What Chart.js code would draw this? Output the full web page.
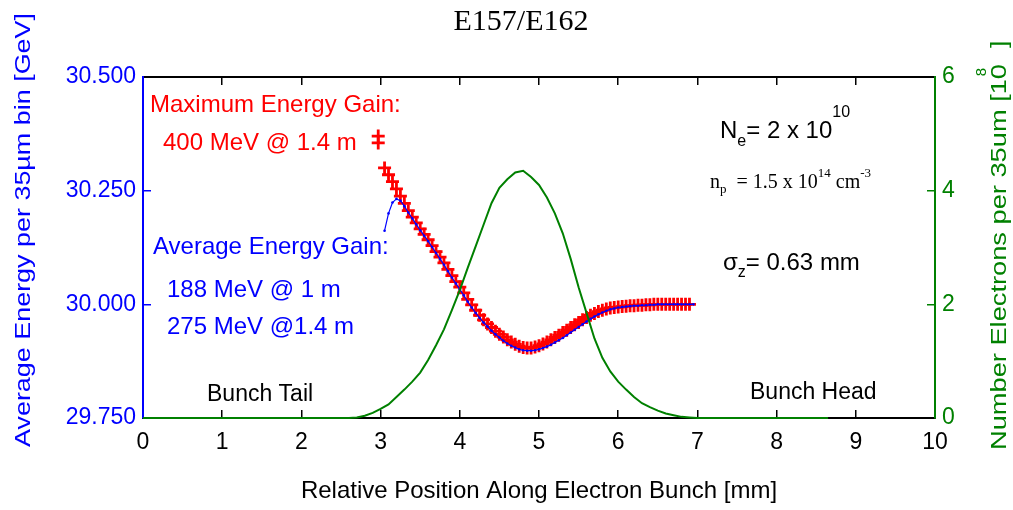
<!DOCTYPE html>
<html>
<head>
<meta charset="utf-8">
<script src="https://cdn.jsdelivr.net/npm/chart.js@4/dist/chart.umd.min.js"></script>
<style>
  html, body { margin: 0; padding: 0; background: #fff; }
  canvas { display: block; }
</style>
</head>
<body>
<canvas id="energyChart" width="1013" height="510"></canvas>
<script>
// Position along the bunch [mm], one entry per plotted bin
const binPos = [3.05, 3.10, 3.15, 3.20, 3.25, 3.30, 3.35, 3.40, 3.45, 3.50,
    3.55, 3.60, 3.65, 3.70, 3.75, 3.80, 3.85, 3.90, 3.95, 4.00,
    4.05, 4.10, 4.15, 4.20, 4.25, 4.30, 4.35, 4.40, 4.45, 4.50,
    4.55, 4.60, 4.65, 4.70, 4.75, 4.80, 4.85, 4.90, 4.95, 5.00,
    5.05, 5.10, 5.15, 5.20, 5.25, 5.30, 5.35, 5.40, 5.45, 5.50,
    5.55, 5.60, 5.65, 5.70, 5.75, 5.80, 5.85, 5.90, 5.95, 6.00,
    6.05, 6.10, 6.15, 6.20, 6.25, 6.30, 6.35, 6.40, 6.45, 6.50,
    6.55, 6.60, 6.65, 6.70, 6.75, 6.80, 6.85, 6.90, 6.95];

// Maximum energy per bin [GeV] (red crosses)
const maxEnergy = [30.300, 30.285, 30.270, 30.254, 30.238, 30.222, 30.206, 30.192, 30.179, 30.166,
    30.154, 30.142, 30.129, 30.116, 30.104, 30.091, 30.077, 30.063, 30.050, 30.038,
    30.025, 30.011, 29.999, 29.987, 29.976, 29.966, 29.957, 29.949, 29.941, 29.934,
    29.928, 29.922, 29.917, 29.912, 29.908, 29.905, 29.904, 29.904, 29.906, 29.909,
    29.913, 29.917, 29.922, 29.927, 29.932, 29.938, 29.943, 29.949, 29.955, 29.960,
    29.966, 29.971, 29.976, 29.980, 29.984, 29.987, 29.990, 29.992, 29.993, 29.994,
    29.995, 29.996, 29.997, 29.997, 29.998, 29.998, 29.999, 29.999, 30.000, 30.000,
    30.000, 30.000, 30.000, 30.000, 30.000, 30.000, 30.000, 30.000, null];

// the two isolated crosses at the very tail
const maxTailPos = [2.97, 2.97];
const maxTailEnergy = [30.370, 30.355];

// Average energy per bin [GeV] (blue dots)
const avgEnergy = [30.162, 30.200, 30.224, 30.232, 30.228, 30.216, 30.202, 30.189, 30.176, 30.163,
    30.151, 30.139, 30.126, 30.113, 30.100, 30.087, 30.073, 30.059, 30.046, 30.033,
    30.020, 30.006, 29.993, 29.981, 29.970, 29.960, 29.951, 29.942, 29.934, 29.927,
    29.920, 29.914, 29.909, 29.905, 29.901, 29.899, 29.898, 29.898, 29.899, 29.901,
    29.904, 29.907, 29.911, 29.916, 29.921, 29.926, 29.932, 29.938, 29.944, 29.950,
    29.956, 29.962, 29.968, 29.973, 29.978, 29.982, 29.986, 29.989, 29.991, 29.993,
    29.994, 29.995, 29.996, 29.997, 29.997, 29.998, 29.998, 29.999, 29.999, 30.000,
    30.000, 30.000, 30.000, 30.000, 30.000, 30.000, 30.000, 30.000, 30.000];

// Bunch profile, electrons per bin [10^8] (green line, right axis)
const profilePos = [0, 2.6, 2.7, 2.8, 2.9, 3.0, 3.1, 3.2, 3.3, 3.4, 3.5,
    3.6, 3.7, 3.8, 3.9, 4.0, 4.1, 4.2, 4.3, 4.4, 4.5,
    4.6, 4.7, 4.8, 4.9, 5.0, 5.1, 5.2, 5.3, 5.4, 5.5,
    5.6, 5.7, 5.8, 5.9, 6.0, 6.1, 6.2, 6.3, 6.4, 6.5,
    6.6, 6.7, 6.8, 6.9, 7.0, 8.65];
const profileCount = [0, 0, 0.01, 0.04, 0.09, 0.16, 0.24, 0.37, 0.50, 0.64, 0.80,
    1.02, 1.28, 1.56, 1.90, 2.25, 2.64, 3.02, 3.40, 3.78, 4.05,
    4.20, 4.32, 4.35, 4.24, 4.10, 3.88, 3.60, 3.25, 2.80, 2.30,
    1.85, 1.40, 1.06, 0.82, 0.64, 0.50, 0.37, 0.26, 0.19, 0.13,
    0.08, 0.05, 0.02, 0.01, 0, 0];

const xTicks = [0, 1, 2, 3, 4, 5, 6, 7, 8, 9, 10];
const energyTicks = [29.75, 30.0, 30.25, 30.5];
const countTicks = [0, 2, 4, 6];

const RED = '#ff0000';
const BLUE = '#0000ff';
const GREEN = '#008000';
const SANS = '"Liberation Sans", Arial, Helvetica, sans-serif';
const SERIF = '"Liberation Serif", "Times New Roman", serif';

function zipPoints(xs, ys) {
    return xs.map((x, i) => ({ x: x, y: ys[i] }));
}

// pieces of text drawn one after another: [text, font, dy]
function drawRun(ctx, x, y, pieces, color) {
    ctx.fillStyle = color;
    ctx.textAlign = 'left';
    ctx.textBaseline = 'alphabetic';
    let cx = x;
    pieces.forEach(p => {
        ctx.font = p[1];
        ctx.fillText(p[0], cx, y + (p[2] || 0));
        cx += ctx.measureText(p[0]).width;
    });
}

// rotated text (bottom to top), stretched to 'length' px (or by 1.2)
function drawVertical(ctx, text, cx, yStart, length, font, color) {
    ctx.save();
    ctx.font = font;
    const w = ctx.measureText(text).width;
    ctx.translate(cx, yStart);
    ctx.rotate(-Math.PI / 2);
    ctx.scale(length ? length / w : 1.2, 1);
    ctx.fillStyle = color;
    ctx.textAlign = 'left';
    ctx.textBaseline = 'middle';
    ctx.fillText(text, 0, 0);
    ctx.restore();
}

// tick marks pointing into the plot, no grid lines
function inwardGrid(color) {
    return { display: true, drawOnChartArea: false, drawTicks: true, tickLength: -8, color: color, lineWidth: 1.5 };
}

const annotations = {
    id: 'annotations',
    afterDraw(chart) {
        const ctx = chart.ctx;
        ctx.save();

        // title
        ctx.font = '30px ' + SERIF;
        ctx.fillStyle = '#000';
        ctx.textAlign = 'center';
        ctx.textBaseline = 'alphabetic';
        ctx.fillText('E157/E162', 521, 30);

        // axis titles on the sides
        drawVertical(ctx, 'Average Energy per 35\u00b5m bin [GeV]', 24, 447, 434, '22px ' + SANS, BLUE);
        drawVertical(ctx, 'Number Electrons per 35um [10', 1000, 450, 386, '22px ' + SANS, GREEN);
        ctx.save();
        ctx.translate(982, 72);
        ctx.rotate(-Math.PI / 2);
        ctx.font = '15px ' + SANS;
        ctx.fillStyle = GREEN;
        ctx.textAlign = 'center';
        ctx.textBaseline = 'middle';
        ctx.fillText('8', 0, 0);
        ctx.restore();
        drawVertical(ctx, ']', 1000, 48, 0, '22px ' + SANS, GREEN);

        const f24 = '24px ' + SANS;
        const f16 = '16px ' + SANS;
        drawRun(ctx, 150, 112, [['Maximum Energy Gain:', f24]], RED);
        drawRun(ctx, 163, 150, [['400 MeV @ 1.4 m', f24]], RED);
        drawRun(ctx, 153, 254, [['Average Energy Gain:', f24]], BLUE);
        drawRun(ctx, 167, 297, [['188 MeV @ 1 m', f24]], BLUE);
        drawRun(ctx, 167, 334, [['275 MeV @1.4 m', f24]], BLUE);

        const f23 = '23px ' + SANS;
        drawRun(ctx, 207, 401, [['Bunch Tail', f23]], '#000');
        drawRun(ctx, 750, 399, [['Bunch Head', f23]], '#000');

        drawRun(ctx, 720, 138, [['N', f24], ['e', f16, 8], ['= 2 x 10', f24], ['10', f16, -21]], '#000');
        const t20 = '20px ' + SERIF;
        const t13 = '13px ' + SERIF;
        drawRun(ctx, 710, 188, [['n', t20], ['p', t13, 5], ['  = 1.5 x 10', t20], ['14', t13, -11],
            [' cm', t20], ['-3', t13, -11]], '#000');
        drawRun(ctx, 723, 270, [['\u03c3', f24], ['z', f16, 7], ['= 0.63 mm', f24]], '#000');

        ctx.restore();
    }
};

const ctx = document.getElementById('energyChart').getContext('2d');
const energyChart = new Chart(ctx, {
    type: 'scatter',
    data: {
        datasets: [{
            label: 'Electrons per bin',
            data: zipPoints(profilePos, profileCount),
            yAxisID: 'y2',
            showLine: true,
            borderColor: GREEN,
            borderWidth: 2,
            pointRadius: 0,
            clip: 4,
            order: 0
        }, {
            label: 'Average energy',
            data: zipPoints(binPos, avgEnergy),
            yAxisID: 'y',
            showLine: true,
            borderColor: BLUE,
            backgroundColor: BLUE,
            borderWidth: 1.2,
            pointRadius: 1.3,
            pointBorderWidth: 0,
            order: 1
        }, {
            label: 'Maximum energy',
            data: zipPoints(maxTailPos, maxTailEnergy).concat(zipPoints(binPos, maxEnergy)),
            yAxisID: 'y',
            showLine: false,
            pointStyle: 'cross',
            pointRadius: 6.5,
            borderColor: RED,
            backgroundColor: RED,
            borderWidth: 2.8,
            order: 2
        }]
    },
    options: {
        responsive: false,
        animation: false,
        layout: { padding: { top: 77, left: 0, right: 0, bottom: 0 } },
        plugins: {
            legend: { display: false },
            tooltip: { enabled: false }
        },
        scales: {
            x: {
                type: 'linear',
                min: 0,
                max: 10,
                afterFit: s => { s.height = 92; },
                afterBuildTicks: s => { s.ticks = xTicks.map(v => ({ value: v })); },
                grid: inwardGrid('#000'),
                border: { color: '#000', width: 2 },
                ticks: { color: '#000', font: { family: SANS, size: 23 }, padding: 19 },
                title: {
                    display: true,
                    text: 'Relative Position Along Electron Bunch [mm]',
                    color: '#000',
                    font: { family: SANS, size: 24 },
                    padding: { top: 0, bottom: 4 }
                }
            },
            xTop: {
                type: 'linear',
                position: 'top',
                axis: 'x',
                min: 0,
                max: 10,
                afterFit: s => { s.height = 0; },
                afterBuildTicks: s => { s.ticks = xTicks.map(v => ({ value: v })); },
                grid: inwardGrid('#000'),
                border: { color: '#000', width: 2 },
                ticks: { display: false }
            },
            y: {
                type: 'linear',
                position: 'left',
                min: 29.75,
                max: 30.5,
                afterFit: s => { s.width = 143; },
                afterBuildTicks: s => { s.ticks = energyTicks.map(v => ({ value: v })); },
                grid: inwardGrid(BLUE),
                border: { color: BLUE, width: 2 },
                ticks: {
                    color: BLUE,
                    font: { family: SANS, size: 23 },
                    padding: 15,
                    callback: v => Number(v).toFixed(3)
                }
            },
            y2: {
                type: 'linear',
                position: 'right',
                min: 0,
                max: 6,
                afterFit: s => { s.width = 78; },
                afterBuildTicks: s => { s.ticks = countTicks.map(v => ({ value: v })); },
                grid: inwardGrid(GREEN),
                border: { color: GREEN, width: 2 },
                ticks: { color: GREEN, font: { family: SANS, size: 23 }, padding: 15 }
            }
        }
    },
    plugins: [annotations]
});
</script>
</body>
</html>
